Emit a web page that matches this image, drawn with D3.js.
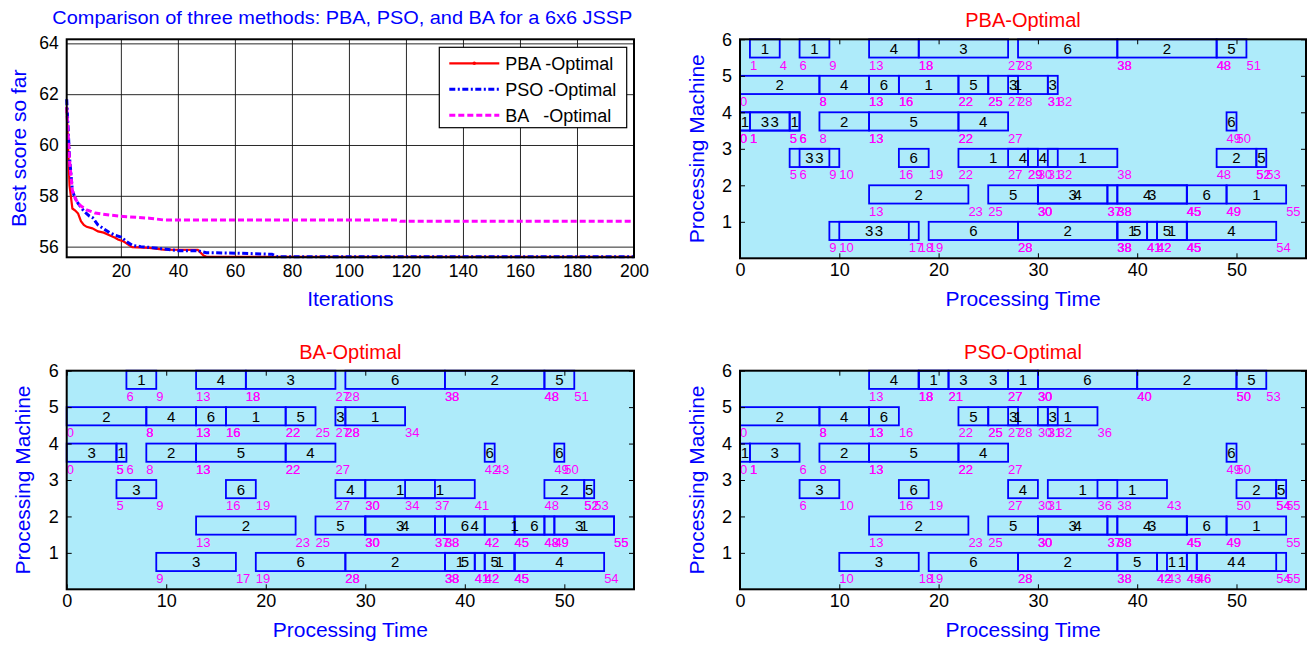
<!DOCTYPE html>
<html>
<head>
<meta charset="utf-8">
<script src="https://cdn.jsdelivr.net/npm/d3@7"></script>
<style>
  body { margin: 0; background: #fff; }
  text { font-family: "Liberation Sans", Arial, sans-serif; }
</style>
</head>
<body>
<div id="chart-area"></div>
<script>
const WIDTH = 1310
const HEIGHT = 649

// convergence curves: iteration breakpoints and best score
const pbaIter  = [1, 2, 3, 4, 5, 6, 7, 8, 10, 12, 14, 16, 18, 19, 21, 23, 24, 30, 35, 47, 49, 50, 200]
const pbaScore = [61.4, 58.4, 57.5, 57.42, 57.3, 57.0, 56.85, 56.78, 56.72, 56.6, 56.55, 56.45, 56.35, 56.28, 56.2, 56.05, 55.98, 55.95, 55.88, 55.87, 55.65, 55.6, 55.6]
const psoIter  = [1, 2, 3, 4, 5, 7, 9, 10, 12, 14, 16, 18, 20, 22, 24, 27, 30, 36, 40, 47, 50, 62, 73, 75, 200]
const psoScore = [61.8, 59.5, 58.2, 57.9, 57.7, 57.4, 57.2, 57.15, 56.85, 56.7, 56.55, 56.45, 56.38, 56.2, 56.05, 56.0, 55.97, 55.9, 55.84, 55.84, 55.76, 55.74, 55.7, 55.6, 55.6]
const baIter   = [1, 2, 3, 4, 5, 6, 8, 11, 16, 22, 30, 35, 117, 118, 200]
const baScore  = [61.5, 59.4, 58.2, 57.9, 57.7, 57.6, 57.45, 57.32, 57.24, 57.18, 57.12, 57.05, 57.05, 57.0, 57.0]

const iterTicks = [20, 40, 60, 80, 100, 120, 140, 160, 180, 200]
const scoreTicks = [56, 58, 60, 62, 64]
const timeTicks = [0, 10, 20, 30, 40, 50]
const machineTicks = [1, 2, 3, 4, 5, 6]

// schedules: [machine, start, end, job]
const pbaOps = [
  [6,1,4,1],[6,6,9,1],[6,13,18,4],[6,18,27,3],[6,28,38,6],[6,38,48,2],[6,48,51,5],
  [5,0,8,2],[5,8,13,4],[5,13,16,6],[5,16,22,1],[5,22,25,5],[5,25,31,1],[5,27,28,3],[5,31,32,3],
  [4,0,1,1],[4,0,5,3],[4,1,6,3],[4,5,6,1],[4,8,13,2],[4,13,22,5],[4,22,27,4],[4,49,50,6],
  [3,5,9,3],[3,6,10,3],[3,16,19,6],[3,22,29,1],[3,27,30,4],[3,29,32,4],[3,31,38,1],[3,48,52,2],[3,52,53,5],
  [2,13,23,2],[2,25,30,5],[2,30,37,3],[2,30,38,4],[2,37,45,4],[2,38,45,3],[2,45,49,6],[2,49,55,1],
  [1,9,17,3],[1,10,18,3],[1,19,28,6],[1,28,38,2],[1,38,41,1],[1,38,42,5],[1,41,45,5],[1,42,45,1],[1,45,54,4]
]
const baOps = [
  [6,6,9,1],[6,13,18,4],[6,18,27,3],[6,28,38,6],[6,38,48,2],[6,48,51,5],
  [5,0,8,2],[5,8,13,4],[5,13,16,6],[5,16,22,1],[5,22,25,5],[5,27,28,3],[5,28,34,1],
  [4,0,5,3],[4,5,6,1],[4,8,13,2],[4,13,22,5],[4,22,27,4],[4,42,43,6],[4,49,50,6],
  [3,5,9,3],[3,16,19,6],[3,27,30,4],[3,30,37,1],[3,34,41,1],[3,48,52,2],[3,52,53,5],
  [2,13,23,2],[2,25,30,5],[2,30,37,3],[2,30,38,4],[2,38,42,6],[2,37,45,4],[2,42,48,1],[2,45,49,6],[2,48,55,3],[2,49,55,1],
  [1,9,17,3],[1,19,28,6],[1,28,38,2],[1,38,41,1],[1,38,42,5],[1,41,45,5],[1,42,45,1],[1,45,54,4]
]
const psoOps = [
  [6,13,18,4],[6,18,21,1],[6,18,27,3],[6,21,30,3],[6,27,30,1],[6,30,40,6],[6,40,50,2],[6,50,53,5],
  [5,0,8,2],[5,8,13,4],[5,13,16,6],[5,22,25,5],[5,25,31,1],[5,27,28,3],[5,30,36,1],[5,31,32,3],
  [4,0,1,1],[4,1,6,3],[4,8,13,2],[4,13,22,5],[4,22,27,4],[4,49,50,6],
  [3,6,10,3],[3,16,19,6],[3,27,30,4],[3,31,38,1],[3,36,43,1],[3,50,54,2],[3,54,55,5],
  [2,13,23,2],[2,25,30,5],[2,30,37,3],[2,30,38,4],[2,37,45,4],[2,38,45,3],[2,45,49,6],[2,49,55,1],
  [1,10,18,3],[1,19,28,6],[1,28,38,2],[1,38,42,5],[1,42,45,1],[1,43,46,1],[1,45,54,4],[1,46,55,4]
]

const BLUE = "#0000ff"
const RED = "#ff0000"
const MAGENTA = "#ff00ff"
const FONT = "Liberation Sans, Arial, sans-serif"

const svg = d3.select("#chart-area").append("svg")
  .attr("width", WIDTH)
  .attr("height", HEIGHT)

function styleAxis(sel, size) {
  sel.attr("font-size", size).attr("font-family", FONT)
  sel.select(".domain").remove()
  sel.selectAll("text").attr("fill", "#000")
}

// ---------- convergence plot ----------
function drawConvergence(box) {
  const g = svg.append("g")
  const x = d3.scaleLinear().domain([1, 200]).range([box.left, box.right])
  const y = d3.scaleLinear().domain([55.58, 64.16]).range([box.bottom, box.top])

  g.append("rect")
    .attr("x", box.left).attr("y", box.top)
    .attr("width", box.right - box.left).attr("height", box.bottom - box.top)
    .attr("fill", "#fff")

  // grid + tick labels
  g.append("g")
    .attr("transform", `translate(0, ${box.bottom})`)
    .call(d3.axisBottom(x).tickValues(iterTicks).tickSize(-(box.bottom - box.top)).tickPadding(7))
    .call(a => styleAxis(a, 17.5))
    .selectAll("line").attr("stroke", "#111").attr("stroke-width", 0.9)

  g.append("g")
    .attr("transform", `translate(${box.left}, 0)`)
    .call(d3.axisLeft(y).tickValues(scoreTicks).tickSize(-(box.right - box.left)).tickPadding(8))
    .call(a => styleAxis(a, 17.5))
    .selectAll("line").attr("stroke", "#111").attr("stroke-width", 0.9)

  const line = d3.line().x(d => x(d[0])).y(d => y(d[1]))
  const series = [
    { it: pbaIter, v: pbaScore, color: RED, w: 2.2, dash: null, name: "PBA -Optimal" },
    { it: psoIter, v: psoScore, color: BLUE, w: 3, dash: "6,2.5,2,2.5", name: "PSO -Optimal" },
    { it: baIter, v: baScore, color: MAGENTA, w: 3, dash: "6,3", name: "BA   -Optimal" }
  ]
  series.forEach(s => {
    g.append("path")
      .datum(d3.zip(s.it, s.v))
      .attr("d", line)
      .attr("fill", "none")
      .attr("stroke", s.color)
      .attr("stroke-width", s.w)
      .attr("stroke-dasharray", s.dash)
  })

  // frame
  g.append("rect")
    .attr("x", box.left).attr("y", box.top)
    .attr("width", box.right - box.left).attr("height", box.bottom - box.top)
    .attr("fill", "none").attr("stroke", "#000").attr("stroke-width", 2)

  // legend
  const lg = g.append("g").attr("transform", "translate(439.3, 47.3)")
  lg.append("rect").attr("width", 187.4).attr("height", 80.4)
    .attr("fill", "#fff").attr("stroke", "#000").attr("stroke-width", 1.2)
  series.forEach((s, i) => {
    const yy = 16 + i * 26
    lg.append("line").attr("x1", 10).attr("x2", 60).attr("y1", yy).attr("y2", yy)
      .attr("stroke", s.color).attr("stroke-width", s.w).attr("stroke-dasharray", s.dash)
    if (i === 0) lg.append("circle").attr("cx", 35).attr("cy", yy).attr("r", 1.8).attr("fill", RED)
    lg.append("text").attr("x", 66).attr("y", yy + 6.5)
      .attr("font-size", 18).style("white-space", "pre").text(s.name)
  })

  g.append("text")
    .attr("x", (box.left + box.right) / 2 - 8).attr("y", 24)
    .attr("text-anchor", "middle").attr("font-size", 19).attr("fill", BLUE)
    .attr("textLength", 580).attr("lengthAdjust", "spacingAndGlyphs")
    .text("Comparison of three methods: PBA, PSO, and BA for a 6x6 JSSP")

  g.append("text")
    .attr("x", (box.left + box.right) / 2).attr("y", box.bottom + 49)
    .attr("text-anchor", "middle").attr("font-size", 21).attr("fill", BLUE)
    .text("Iterations")

  g.append("text")
    .attr("transform", `translate(${box.left - 48}, ${(box.top + box.bottom) / 2}) rotate(-90)`)
    .attr("text-anchor", "middle").attr("dominant-baseline", "central")
    .attr("font-size", 21).attr("fill", BLUE)
    .text("Best score so far")
}

// ---------- gantt charts ----------
function drawGantt(ops, box, title) {
  const g = svg.append("g")
  const x = d3.scaleLinear().domain([0, 57]).range([box.left, box.right])
  const y = d3.scaleLinear().domain([0, 6]).range([box.bottom, box.top])

  g.append("rect")
    .attr("x", box.left).attr("y", box.top)
    .attr("width", box.right - box.left).attr("height", box.bottom - box.top)
    .attr("fill", "#aeebfa")

  g.selectAll("rect.op")
    .data(ops)
    .enter().append("rect")
    .attr("class", "op")
    .attr("x", d => x(d[1]))
    .attr("y", d => y(d[0]))
    .attr("width", d => x(d[2]) - x(d[1]))
    .attr("height", d => y(d[0] - 0.5) - y(d[0]))
    .attr("fill", "none")
    .attr("stroke", BLUE)
    .attr("stroke-width", 1.8)

  g.selectAll("text.job")
    .data(ops)
    .enter().append("text")
    .attr("class", "job")
    .attr("x", d => x((d[1] + d[2]) / 2))
    .attr("y", d => y(d[0] - 0.25) + 5.5)
    .attr("text-anchor", "middle")
    .attr("font-size", 15)
    .text(d => d[3])

  // start / finish time stamps under each operation
  const stamps = ops.flatMap(d => [[d[0], d[1]], [d[0], d[2]]])
  g.selectAll("text.time")
    .data(stamps)
    .enter().append("text")
    .attr("class", "time")
    .attr("x", d => x(d[1]))
    .attr("y", d => y(d[0] - 0.5) + 12)
    .attr("font-size", 13)
    .attr("fill", MAGENTA)
    .text(d => d[1])

  g.append("g")
    .attr("transform", `translate(0, ${box.bottom})`)
    .call(d3.axisBottom(x).tickValues(timeTicks).tickFormat(d3.format("d"))
      .tickSizeInner(-5).tickSizeOuter(0).tickPadding(5))
    .call(a => styleAxis(a, 18))
  g.append("g")
    .attr("transform", `translate(0, ${box.top})`)
    .call(d3.axisTop(x).tickValues(timeTicks).tickSizeInner(-5).tickSizeOuter(0).tickFormat(""))
    .call(a => styleAxis(a, 18))
  g.append("g")
    .attr("transform", `translate(${box.left}, 0)`)
    .call(d3.axisLeft(y).tickValues(machineTicks).tickFormat(d3.format("d"))
      .tickSizeInner(-5).tickSizeOuter(0).tickPadding(8))
    .call(a => styleAxis(a, 18))
  g.append("g")
    .attr("transform", `translate(${box.right}, 0)`)
    .call(d3.axisRight(y).tickValues(machineTicks).tickSizeInner(-5).tickSizeOuter(0).tickFormat(""))
    .call(a => styleAxis(a, 18))

  g.append("rect")
    .attr("x", box.left).attr("y", box.top)
    .attr("width", box.right - box.left).attr("height", box.bottom - box.top)
    .attr("fill", "none").attr("stroke", "#000").attr("stroke-width", 2)

  g.append("text")
    .attr("x", (box.left + box.right) / 2).attr("y", box.top - 12)
    .attr("text-anchor", "middle").attr("font-size", 20).attr("fill", RED)
    .text(title)

  g.append("text")
    .attr("x", (box.left + box.right) / 2).attr("y", box.bottom + 48)
    .attr("text-anchor", "middle").attr("font-size", 21).attr("fill", BLUE)
    .text("Processing Time")

  g.append("text")
    .attr("transform", `translate(${box.left - 44}, ${(box.top + box.bottom) / 2}) rotate(-90)`)
    .attr("text-anchor", "middle").attr("dominant-baseline", "central")
    .attr("font-size", 21).attr("fill", BLUE)
    .text("Processing Machine")
}

drawConvergence({ left: 66.7, right: 634, top: 39.3, bottom: 257.3 })
drawGantt(pbaOps, { left: 740, right: 1306, top: 39.3, bottom: 258.3 }, "PBA-Optimal")
drawGantt(baOps, { left: 66.7, right: 634, top: 370.7, bottom: 589.3 }, "BA-Optimal")
drawGantt(psoOps, { left: 740, right: 1306, top: 370.7, bottom: 589.3 }, "PSO-Optimal")
</script>
</body>
</html>
